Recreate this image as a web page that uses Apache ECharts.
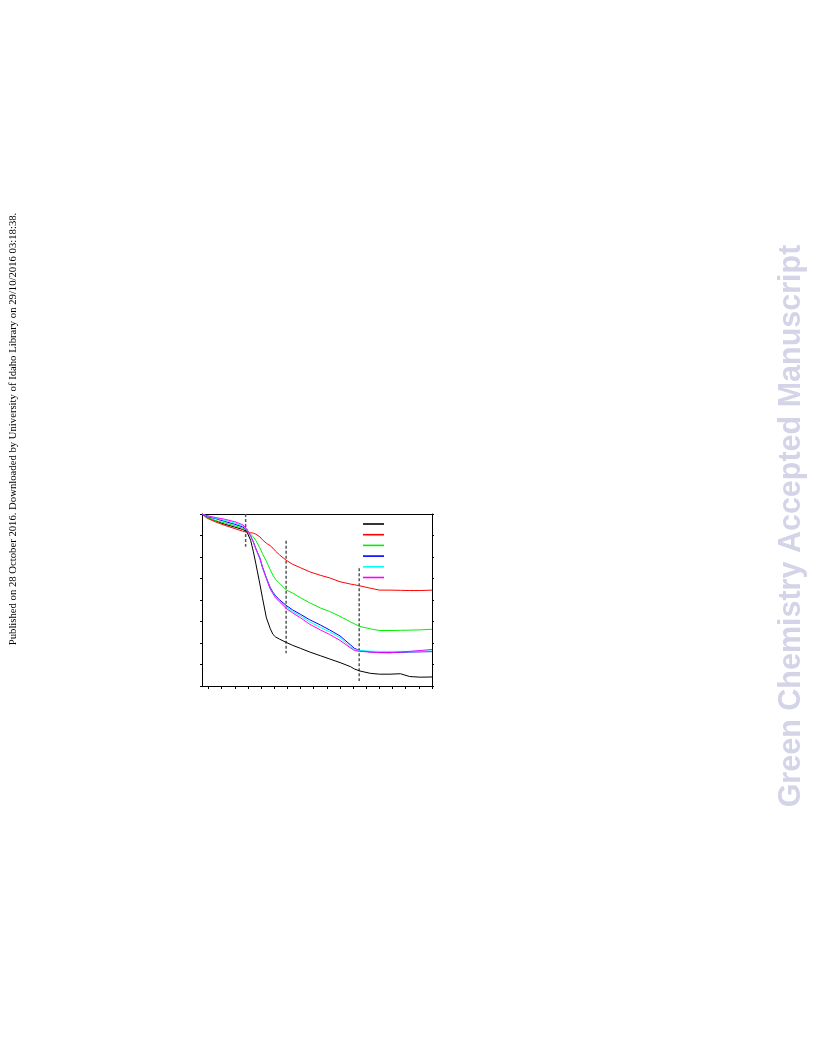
<!DOCTYPE html>
<html>
<head>
<meta charset="utf-8">
<script src="https://cdn.jsdelivr.net/npm/echarts@6/dist/echarts.min.js"></script>
<style>
html,body{margin:0;padding:0;background:#fff;}
#chart{width:816px;height:1056px;}
</style>
</head>
<body>
<div id="chart"></div>
<script>
// Temperature grid (x values)
var temps = [25, 45, 75, 110, 150, 180, 195, 210, 220, 230, 245, 255, 270, 285, 295, 305, 320, 345, 370, 400, 435, 475, 510, 550, 590, 605, 625, 665, 700, 740, 780, 815, 855, 900];
// Weight (%) per series
var seriesBlack   = [100, 98.3, 96.9, 95.3, 93.9, 92.8, 91.9, 87.8, 82.7, 76.8, 67.5, 61.0, 51.7, 46.6, 44.0, 42.8, 41.8, 40.3, 38.9, 37.5, 35.8, 34.1, 32.6, 30.9, 29.0, 27.9, 27.0, 25.9, 25.5, 25.5, 25.7, 24.4, 24.1, 24.2];
var seriesRed     = [100, 98.0, 96.4, 94.8, 93.2, 92.0, 91.5, 91.3, 91.1, 90.6, 89.4, 88.0, 86.4, 85.2, 84.1, 82.7, 81.0, 78.5, 76.6, 75.0, 73.1, 71.5, 70.3, 68.5, 67.4, 67.1, 66.6, 65.5, 64.6, 64.6, 64.5, 64.4, 64.4, 64.6];
var seriesGreen   = [100, 98.4, 97.0, 95.9, 94.5, 93.4, 92.5, 90.6, 89.4, 87.6, 84.3, 81.5, 78.0, 74.0, 71.5, 69.6, 67.8, 64.7, 63.2, 61.0, 58.7, 56.3, 54.7, 52.4, 49.8, 48.9, 47.7, 46.6, 45.8, 45.8, 45.9, 46.0, 46.1, 46.4];
var seriesBlue    = [100, 98.8, 97.9, 96.6, 95.2, 94.0, 92.7, 89.7, 87.1, 83.8, 79.6, 75.4, 70.3, 65.7, 63.6, 61.9, 60.1, 57.5, 55.4, 53.3, 50.8, 48.4, 46.1, 43.3, 39.1, 37.5, 36.5, 35.8, 35.6, 35.5, 35.7, 35.8, 35.9, 36.0];
var seriesCyan    = [100, 99.1, 98.1, 97.1, 95.8, 94.5, 92.9, 89.7, 86.9, 83.6, 79.2, 75.0, 69.9, 65.2, 63.1, 61.5, 59.6, 56.8, 54.7, 52.6, 49.8, 47.3, 45.2, 42.4, 38.2, 37.0, 36.5, 36.2, 36.1, 36.1, 36.1, 36.1, 36.2, 36.3];
var seriesMagenta = [100, 99.2, 98.4, 97.6, 96.4, 95.0, 93.2, 89.9, 87.1, 83.8, 79.4, 75.2, 69.9, 65.0, 62.9, 61.0, 59.1, 56.1, 54.0, 51.7, 48.7, 46.1, 44.0, 41.2, 37.7, 36.5, 36.1, 35.8, 35.5, 35.5, 35.8, 36.1, 36.5, 37.0];
// Dashed stage markers: [temperature, yTop, yBottom]
var stageMarkers = [[191, 100, 84.8], [345, 87.6, 35.2], [623, 74.8, 22.3]];
// Axis ranges / ticks
var xMin = 25, xMax = 900;
var xTicks = [50, 100, 150, 200, 250, 300, 350, 400, 450, 500, 550, 600, 650, 700, 750, 800, 850, 900];
var yMin = 20, yMax = 100, yStep = 10;

var names = ['s1', 's2', 's3', 's4', 's5', 's6'];
var colors = ['#000000', '#ff0000', '#00ee00', '#0000ff', '#00ffff', '#ff00ff'];
var all = [seriesBlack, seriesRed, seriesGreen, seriesBlue, seriesCyan, seriesMagenta];

function zip(xs, ys) { return xs.map(function (x, i) { return [x, ys[i]]; }); }

var series = all.map(function (vals, i) {
  return {
    name: names[i], type: 'line', data: zip(temps, vals), showSymbol: false, symbol: 'none',
    lineStyle: { color: colors[i], width: 1 }, itemStyle: { color: colors[i] },
    animation: false, z: 3
  };
});
stageMarkers.forEach(function (m) {
  series.push({
    type: 'line', data: [[m[0], m[1]], [m[0], m[2]]], showSymbol: false, symbol: 'none',
    lineStyle: { color: '#555555', width: 1.5, type: [3, 2] }, silent: true, animation: false, z: 2
  });
});

var chart = echarts.init(document.getElementById('chart'), null, { renderer: 'canvas' });
chart.setOption({
  animation: false,
  backgroundColor: '#ffffff',
  grid: { left: 202, right: 384, top: 514, bottom: 370, containLabel: false },
  legend: {
    data: names, orient: 'vertical', left: 363, top: 520,
    icon: 'rect', itemWidth: 21, itemHeight: 1.6, itemGap: 2.7,
    formatter: function () { return ' '; },
    textStyle: { fontSize: 8, lineHeight: 8, padding: 0 },
    padding: 0, selectedMode: false
  },
  xAxis: [{
    type: 'value', min: xMin, max: xMax, position: 'bottom',
    axisLine: { show: true, onZero: false, lineStyle: { color: '#000', width: 1 } },
    axisTick: { show: true, inside: false, length: 3, customValues: xTicks, lineStyle: { color: '#000', width: 1 } },
    axisLabel: { show: false }, splitLine: { show: false }
  }, {
    type: 'value', min: xMin, max: xMax, position: 'top',
    axisLine: { show: true, onZero: false, lineStyle: { color: '#000', width: 1 } },
    axisTick: { show: false }, axisLabel: { show: false }, splitLine: { show: false }
  }],
  yAxis: [{
    type: 'value', min: yMin, max: yMax, interval: yStep, position: 'left',
    axisLine: { show: true, onZero: false, lineStyle: { color: '#000', width: 1 } },
    axisTick: { show: true, inside: false, length: 2, lineStyle: { color: '#000', width: 1 } },
    axisLabel: { show: false }, splitLine: { show: false }
  }, {
    type: 'value', min: yMin, max: yMax, interval: yStep, position: 'right',
    axisLine: { show: true, onZero: false, lineStyle: { color: '#000', width: 1 } },
    axisTick: { show: true, inside: false, length: 2, lineStyle: { color: '#000', width: 1 } },
    axisLabel: { show: false }, splitLine: { show: false }
  }],
  series: series,
  graphic: [{
    type: 'text', x: 13.5, y: 429, rotation: Math.PI / 2,
    style: {
      text: 'Published on 28 October 2016. Downloaded by University of Idaho Library on 29/10/2016 03:18:38.',
      font: '10.7px "Liberation Serif", "Times New Roman", serif', fill: '#000',
      align: 'center', verticalAlign: 'middle'
    }
  }, {
    type: 'text', x: 792, y: 526, rotation: Math.PI / 2,
    style: {
      text: 'Green Chemistry Accepted Manuscript',
      font: 'bold 30.5px "Liberation Sans", Arial, sans-serif', fill: '#d4d4e8',
      align: 'center', verticalAlign: 'middle'
    }
  }]
});
</script>
</body>
</html>
